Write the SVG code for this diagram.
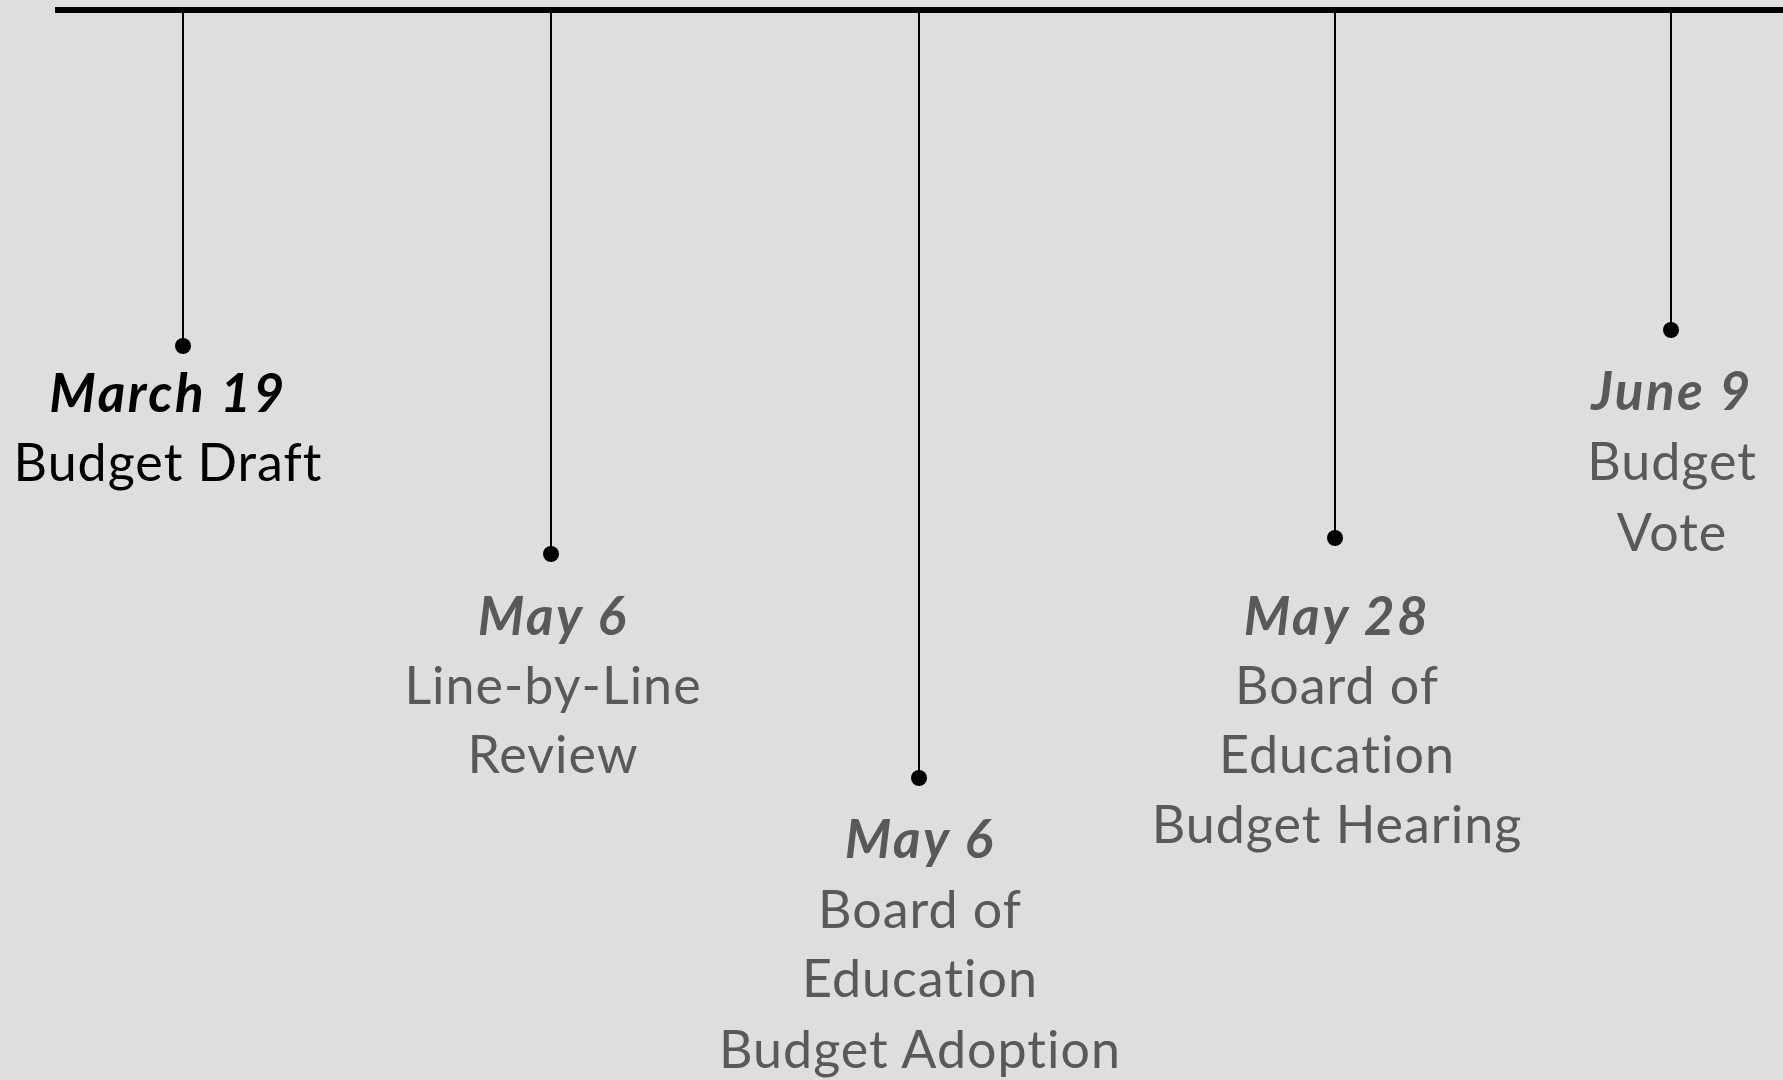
<svg xmlns="http://www.w3.org/2000/svg" width="1783" height="1080" viewBox="0 0 1783 1080">
<style>
.bg{fill:#dedede}
.axis{stroke:#000;stroke-width:6}
.stem{stroke:#000;stroke-width:2}
.dot{fill:#000}
text{font-family:Lato,"Open Sans",sans-serif;font-size:52px;letter-spacing:1px;text-anchor:middle;fill:#595959;font-variant-ligatures:none}
.date{font-weight:bold;font-style:italic;font-size:53px;letter-spacing:2.5px}
.first{fill:#000}
</style>
<rect class="bg" x="0" y="0" width="1783" height="1080"/>
<g id="connectors">
<line class="axis" x1="55" y1="10" x2="1783" y2="10"/>
<line class="stem" x1="183" y1="10" x2="183" y2="346"/>
<line class="stem" x1="551" y1="10" x2="551" y2="554"/>
<line class="stem" x1="919" y1="10" x2="919" y2="778"/>
<line class="stem" x1="1335" y1="10" x2="1335" y2="538"/>
<line class="stem" x1="1671" y1="10" x2="1671" y2="330"/>
</g>
<g id="node-march19">
<circle class="dot" cx="183" cy="346" r="8"/>
<text class="date first" x="168" y="412">March 19</text>
<text class="first" x="168" y="481">Budget Draft</text>
</g>
<g id="node-may6-review">
<circle class="dot" cx="551" cy="554" r="8"/>
<text class="date" x="553" y="635">May 6</text>
<text x="553" y="704">Line-by-Line</text>
<text x="553" y="773">Review</text>
</g>
<g id="node-may6-adoption">
<circle class="dot" cx="919" cy="778" r="8"/>
<text class="date" x="920" y="858">May 6</text>
<text x="920" y="928">Board of</text>
<text x="920" y="997">Education</text>
<text x="920" y="1068">Budget Adoption</text>
</g>
<g id="node-may28">
<circle class="dot" cx="1335" cy="538" r="8"/>
<text class="date" x="1337" y="635">May 28</text>
<text x="1337" y="704">Board of</text>
<text x="1337" y="773">Education</text>
<text x="1337" y="843">Budget Hearing</text>
</g>
<g id="node-june9">
<circle class="dot" cx="1671" cy="330" r="8"/>
<text class="date" x="1672" y="410">June 9</text>
<text x="1672" y="480">Budget</text>
<text x="1672" y="551">Vote</text>
</g>
</svg>
